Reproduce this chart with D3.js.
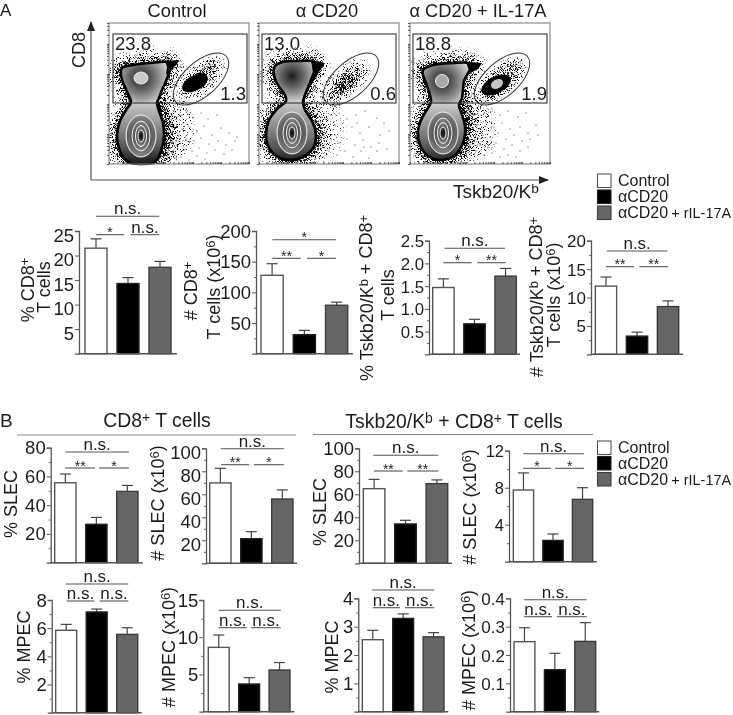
<!DOCTYPE html>
<html>
<head>
<meta charset="utf-8">
<script src="https://cdn.jsdelivr.net/npm/d3@7"></script>
<style>
  html, body { margin: 0; background: #fff; }
  svg { display: block; filter: blur(0.35px); }
  text { font-family: "Liberation Sans", Arial, sans-serif; fill: #1c1c1c; }
</style>
</head>
<body>
<svg id="fig" width="733" height="715"></svg>
<script>
// groups
const categories = ['Control', 'αCD20', 'αCD20 + rIL-17A'];
const barFill = ['#ffffff', '#000000', '#666666'];
const barStroke = ['#555555', '#222222', '#3c3c3c'];

// bar heights and top of the error bar
const pctCd8 = [21.5, 14.3, 17.6], pctCd8Top = [23.4, 15.5, 18.8];
const numCd8 = [127.8, 31, 79], numCd8Top = [146.7, 38, 84];
const pctTet = [1.47, 0.67, 1.72], pctTetTop = [1.66, 0.77, 1.89];
const numTet = [12, 3.2, 8.4], numTetTop = [13.6, 3.9, 9.4];
const pctSlec = [55.6, 26.7, 49.6], pctSlecTop = [61.7, 31.5, 53.8];
const numSlec = [69.9, 21.4, 55.9], numSlecTop = [82.6, 27.5, 63.8];
const pctSlecTet = [64.9, 34.2, 69.3], pctSlecTetTop = [73, 37.4, 72.5];
const numSlecTet = [7.75, 2.3, 6.74], numSlecTetTop = [9.6, 3.0, 8.0];
const pctMpec = [5.85, 7.15, 5.56], pctMpecTop = [6.27, 7.36, 6.03];
const numMpec = [8.64, 3.72, 5.6], numMpecTop = [10.3, 4.57, 6.6];
const pctMpecTet = [2.54, 3.29, 2.64], pctMpecTetTop = [2.87, 3.45, 2.79];
const numMpecTet = [0.247, 0.148, 0.248], numMpecTetTop = [0.296, 0.206, 0.314];

// flow plots: outlines of the main population, in pixels from the plot corner
const flowTitles = ['α CD20', 'α CD20 + IL-17A'];
const outlineControl = [[13,45],[24,42],[41,40],[58,39],[62,42],[60,50],[57,58],[53,67],[50,75],[48,80],[50,88],[54,100],[55,113],[52,128],[46,139],[32,141],[19,139],[11,128],[8,113],[11,98],[17,87],[22,79],[20,73],[15,62],[12,52]];
const outlineDepleted = [[16,43],[24,39],[41,38],[52,38],[57,42],[54,52],[50,62],[46,72],[44,79],[46,87],[53,98],[57,112],[54,125],[44,134],[33,137],[19,134],[10,125],[7,112],[10,97],[19,85],[27,78],[26,72],[19,62],[15,52]];
const outlineRestored = [[13,47],[23,42],[43,40],[58,40],[62,43],[58,50],[54,58],[53,66],[52,75],[49,82],[52,92],[55,103],[53,120],[45,132],[32,137],[18,133],[10,122],[8,108],[12,95],[18,85],[21,79],[20,72],[16,60],[13,52]];
const wedgeControl = [[56,38],[70,37],[68,41],[62,47],[57,52],[58,44]];
const wedgeDepleted = [[52,37],[66,40],[58,52],[50,66],[45,76],[44,74],[49,62],[54,50]];
const wedgeRestored = [[56,39],[72,40],[68,46],[60,50],[58,45]];
const dotsControl = [[72,92],[78,88],[84,95],[92,90],[99,96],[108,92],[66,104],[74,100],[81,104],[88,108],[95,103],[103,112],[112,105],[120,110],[70,112],[77,116],[85,118],[92,115],[100,121],[109,118],[117,122],[126,118],[68,122],[75,126],[83,128],[90,125],[98,130],[106,127],[115,131],[123,127],[72,134],[80,137],[88,133],[96,136],[128,114],[62,96],[65,88],[70,84],[60,108],[63,118],[64,128],[66,135],[58,133]];
const dotsDepleted = [[72,92],[80,90],[88,96],[97,92],[106,88],[118,95],[125,100],[68,106],[76,102],[84,108],[93,104],[101,110],[110,104],[121,112],[130,108],[72,116],[80,120],[88,116],[96,122],[104,117],[112,124],[120,120],[70,128],[78,132],[86,128],[94,134],[102,128],[118,128],[128,126],[66,96],[62,110],[65,122],[76,112],[98,100],[105,124],[64,134],[110,135]];
const dotsRestored = [[74,90],[82,86],[90,92],[98,88],[108,94],[116,90],[68,102],[76,98],[84,104],[92,100],[100,106],[110,104],[118,110],[126,102],[72,112],[80,114],[88,110],[96,116],[104,112],[112,118],[120,116],[70,122],[78,124],[86,120],[94,126],[102,122],[110,128],[66,112],[74,132],[82,130],[90,134],[98,132],[106,134],[62,100],[64,118],[66,128],[118,124],[128,112]];

const ringRx = [15, 9, 5.5, 3];
const ringRy = [21, 15, 10.5, 6];

const flowPlots = [
  { left: 109, gate: [4, 138], outline: outlineControl, wedge: wedgeControl, dots: dotsControl, neck: 80, top: [32, 55], blob: [7, 6, '#c9c9c9'], bulb: [32, 113],
    pct: '23.8', small: '1.3', ell: [92, 56], ellDark: [86, 60, 14, 7.5, null], cloud: [[30, 15, 0.2], [22, 11, 0.2]], lower: 0.18 },
  { left: 259, gate: [3, 137], outline: outlineDepleted, wedge: wedgeDepleted, dots: dotsDepleted, neck: 79, top: [33, 53], blob: null, bulb: [33, 110],
    pct: '13.0', small: '0.6', ell: [86, 60], ellDark: null, cloud: [[32, 15, 0.2], [22, 10, 0.2], [12, 6, 0.15]], lower: 0.12 },
  { left: 410, gate: [3, 137], outline: outlineRestored, wedge: wedgeRestored, dots: dotsRestored, neck: 81, top: [32, 58], blob: [6.5, 6.5, '#a8a8a8'], bulb: [33, 110],
    pct: '18.8', small: '1.9', ell: [92, 57], ellDark: [86, 62, 16, 8.5, [6.5, 4.5]], cloud: [[30, 15, 0.2], [24, 12, 0.2]], lower: 0.18 }
];

const panels = [
  { v: pctCd8, top: pctCd8Top, x: [85, 171], end: 177, axis: 79, y: [231, 353.7], max: 25, major: [5, 10, 15, 20, 25], minor: [], labelDy: 4,
    labels: [['% CD8^+', 27, 290], ['T cells', 43, 287]],
    sig: [[96, 159.3, 216.3, 'n.s.'], [96, 124, 234.7, '*'], [130.7, 159.3, 234.7, 'n.s.']] },
  { v: numCd8, top: numCd8Top, x: [261, 347.7], end: 353, axis: 256, y: [231, 353.7], max: 200, major: [50, 100, 150, 200], minor: [25, 75, 125, 175], labelDy: 0,
    labels: [['# CD8^+', 190, 291], ['T cells (x10^6)', 213, 287]],
    sig: [[272.3, 336, 239.7, '*'], [272.3, 300.7, 258.3, '**'], [307, 336, 258.3, '*']] },
  { v: pctTet, top: pctTetTop, x: [432.7, 516.3], end: 520, axis: 429, y: [240.7, 354.3], max: 2.5, major: [0.5, 1, 1.5, 2, 2.5], minor: [0.25, 0.75, 1.25, 1.75, 2.25], fmt: '.1f', labelDy: 0, tickFont: 16.8,
    labels: [['% Tskb20/K^b + CD8^+', 366, 298], ['T cells', 387, 295]],
    sig: [[444.7, 505, 248.3, 'n.s.'], [443.3, 471.7, 262.7, '*'], [477.3, 505.7, 262.7, '**']] },
  { v: numTet, top: numTetTop, x: [595.3, 678.7], end: 683, axis: 591, y: [240.7, 354.3], max: 20, major: [5, 10, 15, 20], minor: [2.5, 7.5, 12.5, 17.5], labelDy: 0, tickFont: 17,
    labels: [['# Tskb20/K^b + CD8^+', 536, 297], ['T cells (x10^6)', 553, 295]],
    sig: [[607, 667.3, 251, 'n.s.'], [606, 634, 266.7, '**'], [639.3, 668, 266.7, '**']] },
  { v: pctSlec, top: pctSlecTop, x: [54.7, 138], end: 142.7, axis: 50.7, y: [447.7, 562.7], max: 80, major: [20, 40, 60, 80], minor: [10, 30, 50, 70], labelDy: 0,
    labels: [['% SLEC', 10, 504]],
    sig: [[65.3, 129, 452, 'n.s.'], [65.3, 95, 468, '**'], [99, 129, 468, '*']] },
  { v: numSlec, top: numSlecTop, x: [209.7, 293], end: 297, axis: 206, y: [448.3, 563.3], max: 100, major: [20, 40, 60, 80, 100], minor: [10, 30, 50, 70, 90], labelDy: 4,
    labels: [['# SLEC (x10^6)', 157, 503]],
    sig: [[220.7, 284, 448.7, 'n.s.'], [221.3, 249.3, 464.7, '**'], [254, 284, 464.7, '*']] },
  { v: pctSlecTet, top: pctSlecTetTop, x: [363.3, 447.7], end: 452, axis: 359, y: [448.3, 563.3], max: 100, major: [20, 40, 60, 80, 100], minor: [10, 30, 50, 70, 90], labelDy: 0,
    labels: [['% SLEC', 319, 512]],
    sig: [[373.3, 438.3, 455.3, 'n.s.'], [374, 402.7, 471, '**'], [407.3, 438.3, 471, '**']] },
  { v: numSlecTet, top: numSlecTetTop, x: [513.3, 592.7], end: 596.7, axis: 509, y: [450.7, 561.7], max: 12, major: [4, 8, 12], minor: [2, 6, 10], labelDy: 0, tickFont: 16.5,
    labels: [['# SLEC (x10^6)', 469, 507]],
    sig: [[523.3, 584, 453.7, 'n.s.'], [523.3, 550.7, 468.3, '*'], [555.3, 584, 468.3, '*']] },
  { v: pctMpec, top: pctMpecTop, x: [55.7, 137.7], end: 141.7, axis: 51.7, y: [600, 712.7], max: 8, major: [2, 4, 6, 8], minor: [1, 3, 5, 7], labelDy: 0,
    labels: [['% MPEC', 23, 647]],
    sig: [[66, 128.3, 584, 'n.s.'], [66.7, 94.3, 601, 'n.s.'], [99.7, 128.3, 601, 'n.s.']] },
  { v: numMpec, top: numMpecTop, x: [208.3, 290], end: 294.3, axis: 203.3, y: [600, 711.7], max: 15, major: [5, 10, 15], minor: [2.5, 7.5, 12.5], labelDy: 0,
    labels: [['# MPEC (x10^6)', 168, 647]],
    sig: [[218.7, 280.7, 610.3, 'n.s.'], [218.7, 246.7, 627.7, 'n.s.'], [251.3, 280.7, 627.7, 'n.s.']] },
  { v: pctMpecTet, top: pctMpecTetTop, x: [362.3, 444], end: 448.3, axis: 358.3, y: [598.3, 711.7], max: 4, major: [1, 2, 3, 4], minor: [0.5, 1.5, 2.5, 3.5], labelDy: 0,
    labels: [['% MPEC', 331, 657]],
    sig: [[372, 434.3, 590, 'n.s.'], [372.7, 400, 607.7, 'n.s.'], [405, 434.3, 607.7, 'n.s.']] },
  { v: numMpecTet, top: numMpecTetTop, x: [514, 595.7], end: 599.3, axis: 510, y: [598.3, 711.7], max: 0.4, major: [0.1, 0.2, 0.3, 0.4], minor: [0.05, 0.15, 0.25, 0.35], fmt: '.1f', labelDy: 0, tickFont: 17,
    labels: [['# MPEC (x10^6)', 468, 650]],
    sig: [[524, 586.7, 599.7, 'n.s.'], [524, 552, 616.7, 'n.s.'], [557, 586.7, 616.7, 'n.s.']] }
];

const svg = d3.select('#fig');
const defs = svg.append('defs');

// "CD8^+" style strings into tspans
function rich(sel, str) {
  str.split(/\^(.)/).forEach((bit, i) => {
    if (!bit) return;
    const sup = i % 2 === 1;
    sel.append('tspan')
      .attr('dy', sup ? '-0.35em' : (i > 0 ? '0.25em' : null))
      .attr('font-size', sup ? '0.72em' : null)
      .text(bit);
  });
  return sel;
}

function gradient(kind, id, attrs, stops) {
  const g = defs.append(kind).attr('id', id).attr('gradientUnits', 'userSpaceOnUse');
  Object.keys(attrs).forEach(k => g.attr(k, attrs[k]));
  stops.forEach(s => g.append('stop').attr('offset', s[0]).attr('stop-color', s[1]));
  return `url(#${id})`;
}

// turns a soft density layer into grainy speckle
function speckleFilter(id, seed) {
  const f = defs.append('filter').attr('id', id)
    .attr('filterUnits', 'userSpaceOnUse').attr('x', -5).attr('y', -5).attr('width', 150).attr('height', 151)
    .attr('color-interpolation-filters', 'sRGB');
  f.append('feGaussianBlur').attr('in', 'SourceAlpha').attr('stdDeviation', 2.5).attr('result', 'dens');
  f.append('feTurbulence').attr('type', 'fractalNoise').attr('baseFrequency', 1.3).attr('numOctaves', 1).attr('seed', seed).attr('result', 'noise');
  f.append('feColorMatrix').attr('in', 'noise').attr('type', 'matrix')
    .attr('values', '0 0 0 0 0  0 0 0 0 0  0 0 0 0 0  2.5 0 0 0 -0.75').attr('result', 'grain');
  f.append('feComposite').attr('in', 'dens').attr('in2', 'grain').attr('operator', 'arithmetic')
    .attr('k1', 0).attr('k2', 1.5).attr('k3', 1).attr('k4', -1.0).attr('result', 'mix');
  const ct = f.append('feComponentTransfer').attr('in', 'mix');
  ct.append('feFuncA').attr('type', 'linear').attr('slope', 4).attr('intercept', 0);
}

function drawFlow(plot, i) {
  const frameTop = 23, size = [140, 141];
  const x = d3.scaleLinear().domain([0, size[0]]).range([0, size[0]]);
  const y = d3.scaleLinear().domain([0, size[1]]).range([0, size[1]]);
  const g = svg.append('g').attr('transform', `translate(${plot.left},${frameTop})`);
  const line = d3.line().x(d => x(d[0])).y(d => y(d[1])).curve(d3.curveCatmullRomClosed.alpha(0.5));
  const poly = d3.line().x(d => x(d[0])).y(d => y(d[1])).curve(d3.curveLinearClosed);

  defs.append('clipPath').attr('id', `frame${i}`).append('rect').attr('width', size[0]).attr('height', size[1]);
  defs.append('clipPath').attr('id', `body${i}`).append('path').attr('d', line(plot.outline));
  speckleFilter(`speck${i}`, i + 3);

  const clip = g.append('g').attr('clip-path', `url(#frame${i})`);
  const speck = clip.append('g').attr('filter', `url(#speck${i})`);

  // density around the main population and in the gates
  [[30, 0.12], [20, 0.14], [11, 0.24]].forEach(s => {
    speck.append('path').attr('d', line(plot.outline))
      .attr('fill', 'none').attr('stroke', '#000').attr('stroke-width', s[0]).attr('stroke-opacity', s[1]);
  });
  speck.append('ellipse').attr('cx', x(64)).attr('cy', y(106)).attr('rx', 22).attr('ry', 32)
    .attr('fill', '#000').attr('fill-opacity', plot.lower);
  plot.cloud.forEach(c => {
    speck.append('ellipse').attr('transform', `translate(${x(plot.ell[0])},${y(plot.ell[1])}) rotate(-42)`)
      .attr('rx', c[0]).attr('ry', c[1]).attr('fill', '#000').attr('fill-opacity', c[2]);
  });

  clip.selectAll('circle.dot').data(plot.dots).join('circle').attr('class', 'dot')
    .attr('cx', d => x(d[0])).attr('cy', d => y(d[1])).attr('r', 0.55).attr('fill', '#222');

  if (plot.ellDark) {
    const d = plot.ellDark;
    g.append('ellipse').attr('transform', `translate(${x(d[0])},${y(d[1])}) rotate(-28)`)
      .attr('rx', d[2]).attr('ry', d[3]).attr('fill', '#000');
    if (d[4]) {
      g.append('ellipse').attr('transform', `translate(${x(d[0] + 1)},${y(d[1] - 1)}) rotate(-28)`)
        .attr('rx', d[4][0]).attr('ry', d[4][1]).attr('fill', '#c4c4c4');
    }
  }

  // main population: gradient lobes clipped to the outline
  const body = g.append('g').attr('clip-path', `url(#body${i})`);
  const topFill = gradient('radialGradient', `top${i}`, { cx: x(plot.top[0]), cy: y(plot.top[1]), r: 30 },
    i === 1 ? [[0, '#1c1c1c'], [0.4, '#6a6a6a'], [0.75, '#b8b8b8'], [1, '#e4e4e4']] : [[0, '#2a2a2a'], [0.35, '#5a5a5a'], [0.75, '#aaa'], [1, '#dedede']]);
  const bulbFill = gradient('linearGradient', `bulb${i}`, { x1: 0, x2: 0, y1: y(plot.neck - 8), y2: y(138) },
    [[0, '#e4e4e4'], [0.2, '#bbb'], [0.5, '#8a8a8a'], [0.8, '#555'], [1, '#222']]);
  body.append('rect').attr('width', size[0]).attr('height', y(plot.neck)).attr('fill', topFill);
  body.append('rect').attr('y', y(plot.neck)).attr('width', size[0]).attr('height', size[1] - y(plot.neck)).attr('fill', bulbFill);

  ringRx.forEach((rx, k) => {
    const fill = gradient('radialGradient', `ring${i}-${k}`, { cx: x(plot.bulb[0]), cy: y(plot.bulb[1]), r: ringRy[k] },
      [[0, k === 3 ? '#0c0c0c' : '#2a2a2a'], [1, k === 3 ? '#555' : '#8a8a8a']]);
    body.append('ellipse').attr('cx', x(plot.bulb[0])).attr('cy', y(plot.bulb[1]))
      .attr('rx', rx).attr('ry', ringRy[k])
      .attr('fill', fill).attr('stroke', '#efefef').attr('stroke-width', 1);
  });
  if (plot.blob) {
    body.append('ellipse').attr('cx', x(plot.top[0])).attr('cy', y(plot.top[1]))
      .attr('rx', plot.blob[0]).attr('ry', plot.blob[1])
      .attr('fill', plot.blob[2]).attr('stroke', '#eee').attr('stroke-width', 1);
  }
  g.append('path').attr('d', line(plot.outline))
    .attr('fill', 'none').attr('stroke', '#000').attr('stroke-width', 2.6);
  g.append('path').attr('d', poly(plot.wedge)).attr('fill', '#000');

  // frame, gate box, gate ellipse
  g.append('rect').attr('width', size[0]).attr('height', size[1])
    .attr('fill', 'none').attr('stroke', '#8c8c8c').attr('stroke-width', 1.2);
  g.append('rect').attr('x', x(plot.gate[0])).attr('y', y(11))
    .attr('width', x(plot.gate[1]) - x(plot.gate[0])).attr('height', y(69))
    .attr('fill', 'none').attr('stroke', '#333').attr('stroke-width', 1.1);
  g.append('ellipse').attr('transform', `translate(${x(92)},${y(56)}) rotate(-42)`)
    .attr('rx', 34).attr('ry', 17).attr('fill', 'none').attr('stroke', '#333').attr('stroke-width', 1);

  // log ticks on both axes
  const logX = d3.scaleLog().domain([10, 1e6]).range([0, size[0]]);
  const logY = d3.scaleLog().domain([1, Math.pow(10, 4.7)]).range([size[1], 0]);
  const axB = g.append('g').attr('transform', `translate(0,${size[1]})`)
    .call(d3.axisBottom(logX).tickSize(-2).tickFormat(''));
  const axL = g.append('g').call(d3.axisLeft(logY).tickSize(2).tickFormat(''));
  [axB, axL].forEach(a => { a.select('.domain').remove(); a.selectAll('line').attr('stroke', '#333').attr('stroke-width', 0.8); });

  g.append('text').attr('x', x(plot.gate[0] + 2)).attr('y', y(27)).attr('font-size', 18.5).text(plot.pct);
  g.append('text').attr('x', x(137)).attr('y', y(77)).attr('text-anchor', 'end').attr('font-size', 18.5).text(plot.small);
}

function drawBars(p) {
  const x = d3.scaleBand().domain(categories).range(p.x).paddingInner(0.3125).paddingOuter(0);
  const y = d3.scaleLinear().domain([0, p.max]).range([p.y[1], p.y[0]]);
  const g = svg.append('g');
  const color = d3.scaleOrdinal().domain(categories).range(barFill);
  const edge = d3.scaleOrdinal().domain(categories).range(barStroke);
  const rows = categories.map((c, i) => ({ c, v: p.v[i], top: p.top[i] }));

  const errs = g.append('g').selectAll('g').data(rows).join('g').attr('stroke', '#444').attr('stroke-width', 1.2);
  errs.append('line')
    .attr('x1', d => x(d.c) + x.bandwidth() / 2).attr('x2', d => x(d.c) + x.bandwidth() / 2)
    .attr('y1', d => y(d.v)).attr('y2', d => y(d.top));
  errs.append('line')
    .attr('x1', d => x(d.c) + x.bandwidth() / 2 - 5.5).attr('x2', d => x(d.c) + x.bandwidth() / 2 + 5.5)
    .attr('y1', d => y(d.top)).attr('y2', d => y(d.top));

  g.append('g').selectAll('rect').data(rows).join('rect')
    .attr('x', d => x(d.c)).attr('width', x.bandwidth())
    .attr('y', d => y(d.v)).attr('height', d => y(0) - y(d.v))
    .attr('fill', d => color(d.c)).attr('stroke', d => edge(d.c)).attr('stroke-width', 1.4);

  const axis = d3.axisLeft(y).tickValues(p.major).tickSize(4).tickPadding(1);
  axis.tickFormat(d3.format(p.fmt || 'd'));
  const ax = g.append('g').attr('transform', `translate(${p.axis},0)`).call(axis);
  ax.select('.domain').attr('stroke', '#555').attr('stroke-width', 1.3);
  ax.selectAll('line').attr('stroke', '#555').attr('stroke-width', 1);
  ax.selectAll('text').attr('font-size', p.tickFont || 18.5).attr('dy', null).attr('transform', `translate(0,${p.labelDy + 6})`);
  const minors = g.append('g').attr('transform', `translate(${p.axis},0)`)
    .call(d3.axisLeft(y).tickValues(p.minor).tickSize(2).tickFormat(''));
  minors.select('.domain').remove();
  minors.selectAll('line').attr('stroke', '#555').attr('stroke-width', 0.9);

  g.append('line').attr('x1', p.axis).attr('x2', p.end).attr('y1', y(0)).attr('y2', y(0))
    .attr('stroke', '#555').attr('stroke-width', 1.4);

  p.labels.forEach(l => {
    rich(g.append('text').attr('transform', `translate(${l[1] + 6.5},${l[2]}) rotate(-90)`)
      .attr('text-anchor', 'middle').attr('font-size', 18), l[0]);
  });

  p.sig.forEach(s => {
    g.append('line').attr('x1', s[0]).attr('x2', s[1]).attr('y1', s[2]).attr('y2', s[2])
      .attr('stroke', '#555').attr('stroke-width', 1.1);
    g.append('text').attr('x', (s[0] + s[1]) / 2).attr('y', s[3] === 'n.s.' ? s[2] - 2 : s[2] + 2.5)
      .attr('text-anchor', 'middle').attr('font-size', s[3] === 'n.s.' ? 17 : 14).text(s[3]);
  });
}

function drawLegend(boxTop, textBase) {
  categories.forEach((c, i) => {
    svg.append('rect').attr('x', 597.5).attr('y', boxTop[i]).attr('width', 13.5).attr('height', 13.5)
      .attr('fill', barFill[i]).attr('stroke', barStroke[i]).attr('stroke-width', 1.1);
    const t = svg.append('text').attr('x', 618).attr('y', textBase[i]).attr('font-size', 16);
    if (i === 2) {
      t.append('tspan').text('αCD20');
      t.append('tspan').attr('font-size', 14.5).attr('dx', 3).text('+ rIL-17A');
    } else t.text(c);
  });
}

// panel A
svg.append('text').attr('x', 0).attr('y', 15.5).attr('font-size', 17).text('A');
svg.append('text').attr('x', 177).attr('y', 17).attr('text-anchor', 'middle').attr('font-size', 18.3).text('Control');
flowTitles.forEach((t, i) => {
  svg.append('text').attr('x', [327, 478][i]).attr('y', 17).attr('text-anchor', 'middle').attr('font-size', 18.3).text(t);
});
flowPlots.forEach(drawFlow);

// CD8 / tetramer arrows
defs.append('marker').attr('id', 'tip').attr('viewBox', '0 0 10 8').attr('refX', 9).attr('refY', 4)
  .attr('markerWidth', 10).attr('markerHeight', 8).attr('markerUnits', 'userSpaceOnUse').attr('orient', 'auto')
  .append('path').attr('d', 'M0,0L10,4L0,8Z').attr('fill', '#222');
svg.append('path').attr('d', 'M91,180V22').attr('fill', 'none').attr('stroke', '#555').attr('stroke-width', 1.2).attr('marker-end', 'url(#tip)');
svg.append('path').attr('d', 'M91,180H548').attr('fill', 'none').attr('stroke', '#555').attr('stroke-width', 1.2).attr('marker-end', 'url(#tip)');
svg.append('text').attr('transform', 'translate(85,50) rotate(-90)').attr('text-anchor', 'middle').attr('font-size', 18).text('CD8');
rich(svg.append('text').attr('x', 453).attr('y', 198).attr('font-size', 19), 'Tskb20/K^b');

drawLegend([174, 190, 206], [186, 202, 218]);
panels.forEach(drawBars);

// panel B
svg.append('text').attr('x', 0).attr('y', 427).attr('font-size', 19).text('B');
rich(svg.append('text').attr('x', 157).attr('y', 427).attr('text-anchor', 'middle').attr('font-size', 19.4), 'CD8^+ T cells');
rich(svg.append('text').attr('x', 454).attr('y', 428).attr('text-anchor', 'middle').attr('font-size', 19.4), 'Tskb20/K^b + CD8^+ T cells');
svg.append('line').attr('x1', 17).attr('x2', 296).attr('y1', 435).attr('y2', 435).attr('stroke', '#888').attr('stroke-width', 1);
svg.append('line').attr('x1', 313).attr('x2', 593).attr('y1', 434.5).attr('y2', 434.5).attr('stroke', '#888').attr('stroke-width', 1);
drawLegend([441, 456.5, 472.5], [453, 469, 485]);
</script>
</body>
</html>
